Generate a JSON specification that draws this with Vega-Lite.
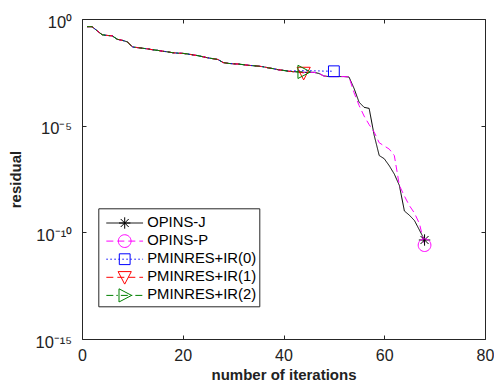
{
  "$schema": "https://vega.github.io/schema/vega-lite/v6.json",
  "width": 403,
  "height": 320,
  "autosize": "none",
  "padding": {"left": 82, "top": 19, "right": 9, "bottom": 48},
  "config": {
    "font": "Liberation Sans",
    "view": {"stroke": null},
    "axis": {"domainColor": "#262626", "tickColor": "#262626", "labelColor": "#262626", "titleColor": "#262626", "grid": false, "domainWidth": 1, "tickWidth": 1}
  },
  "data": {
    "values": [
      {"it": 1, "OPINS-J": 0.4365, "OPINS-P": 0.4365, "PMINRES+IR(0)": 0.4365, "PMINRES+IR(1)": 0.4365, "PMINRES+IR(2)": 0.4365},
      {"it": 2, "OPINS-J": 0.4365, "OPINS-P": 0.4365, "PMINRES+IR(0)": 0.4365, "PMINRES+IR(1)": 0.4365, "PMINRES+IR(2)": 0.4365},
      {"it": 3, "OPINS-J": 0.2818, "OPINS-P": 0.2818, "PMINRES+IR(0)": 0.2818, "PMINRES+IR(1)": 0.2818, "PMINRES+IR(2)": 0.2818},
      {"it": 4, "OPINS-J": 0.182, "OPINS-P": 0.182, "PMINRES+IR(0)": 0.182, "PMINRES+IR(1)": 0.182, "PMINRES+IR(2)": 0.182},
      {"it": 5, "OPINS-J": 0.1698, "OPINS-P": 0.1698, "PMINRES+IR(0)": 0.1698, "PMINRES+IR(1)": 0.1698, "PMINRES+IR(2)": 0.1698},
      {"it": 6, "OPINS-J": 0.1622, "OPINS-P": 0.1622, "PMINRES+IR(0)": 0.1622, "PMINRES+IR(1)": 0.1622, "PMINRES+IR(2)": 0.1622},
      {"it": 7, "OPINS-J": 0.1122, "OPINS-P": 0.1122, "PMINRES+IR(0)": 0.1122, "PMINRES+IR(1)": 0.1122, "PMINRES+IR(2)": 0.1122},
      {"it": 8, "OPINS-J": 0.1, "OPINS-P": 0.1, "PMINRES+IR(0)": 0.1, "PMINRES+IR(1)": 0.1, "PMINRES+IR(2)": 0.1},
      {"it": 9, "OPINS-J": 0.0851, "OPINS-P": 0.0851, "PMINRES+IR(0)": 0.0851, "PMINRES+IR(1)": 0.0851, "PMINRES+IR(2)": 0.0851},
      {"it": 10, "OPINS-J": 0.049, "OPINS-P": 0.049, "PMINRES+IR(0)": 0.049, "PMINRES+IR(1)": 0.049, "PMINRES+IR(2)": 0.049},
      {"it": 11, "OPINS-J": 0.0457, "OPINS-P": 0.0457, "PMINRES+IR(0)": 0.0457, "PMINRES+IR(1)": 0.0457, "PMINRES+IR(2)": 0.0457},
      {"it": 12, "OPINS-J": 0.0427, "OPINS-P": 0.0427, "PMINRES+IR(0)": 0.0427, "PMINRES+IR(1)": 0.0427, "PMINRES+IR(2)": 0.0427},
      {"it": 13, "OPINS-J": 0.0398, "OPINS-P": 0.0398, "PMINRES+IR(0)": 0.0398, "PMINRES+IR(1)": 0.0398, "PMINRES+IR(2)": 0.0398},
      {"it": 14, "OPINS-J": 0.0363, "OPINS-P": 0.0363, "PMINRES+IR(0)": 0.0363, "PMINRES+IR(1)": 0.0363, "PMINRES+IR(2)": 0.0363},
      {"it": 15, "OPINS-J": 0.0339, "OPINS-P": 0.0339, "PMINRES+IR(0)": 0.0339, "PMINRES+IR(1)": 0.0339, "PMINRES+IR(2)": 0.0339},
      {"it": 16, "OPINS-J": 0.0309, "OPINS-P": 0.0309, "PMINRES+IR(0)": 0.0309, "PMINRES+IR(1)": 0.0309, "PMINRES+IR(2)": 0.0309},
      {"it": 17, "OPINS-J": 0.0288, "OPINS-P": 0.0288, "PMINRES+IR(0)": 0.0288, "PMINRES+IR(1)": 0.0288, "PMINRES+IR(2)": 0.0288},
      {"it": 18, "OPINS-J": 0.0263, "OPINS-P": 0.0263, "PMINRES+IR(0)": 0.0263, "PMINRES+IR(1)": 0.0263, "PMINRES+IR(2)": 0.0263},
      {"it": 19, "OPINS-J": 0.0251, "OPINS-P": 0.0251, "PMINRES+IR(0)": 0.0251, "PMINRES+IR(1)": 0.0251, "PMINRES+IR(2)": 0.0251},
      {"it": 20, "OPINS-J": 0.0245, "OPINS-P": 0.0245, "PMINRES+IR(0)": 0.0245, "PMINRES+IR(1)": 0.0245, "PMINRES+IR(2)": 0.0245},
      {"it": 21, "OPINS-J": 0.0229, "OPINS-P": 0.0229, "PMINRES+IR(0)": 0.0229, "PMINRES+IR(1)": 0.0229, "PMINRES+IR(2)": 0.0229},
      {"it": 22, "OPINS-J": 0.0209, "OPINS-P": 0.0209, "PMINRES+IR(0)": 0.0209, "PMINRES+IR(1)": 0.0209, "PMINRES+IR(2)": 0.0209},
      {"it": 23, "OPINS-J": 0.0191, "OPINS-P": 0.0191, "PMINRES+IR(0)": 0.0191, "PMINRES+IR(1)": 0.0191, "PMINRES+IR(2)": 0.0191},
      {"it": 24, "OPINS-J": 0.017, "OPINS-P": 0.017, "PMINRES+IR(0)": 0.017, "PMINRES+IR(1)": 0.017, "PMINRES+IR(2)": 0.017},
      {"it": 25, "OPINS-J": 0.0151, "OPINS-P": 0.0151, "PMINRES+IR(0)": 0.0151, "PMINRES+IR(1)": 0.0151, "PMINRES+IR(2)": 0.0151},
      {"it": 26, "OPINS-J": 0.0138, "OPINS-P": 0.0138, "PMINRES+IR(0)": 0.0138, "PMINRES+IR(1)": 0.0138, "PMINRES+IR(2)": 0.0138},
      {"it": 27, "OPINS-J": 0.0126, "OPINS-P": 0.0126, "PMINRES+IR(0)": 0.0126, "PMINRES+IR(1)": 0.0126, "PMINRES+IR(2)": 0.0126},
      {"it": 28, "OPINS-J": 0.00912, "OPINS-P": 0.00912, "PMINRES+IR(0)": 0.00912, "PMINRES+IR(1)": 0.00912, "PMINRES+IR(2)": 0.00912},
      {"it": 29, "OPINS-J": 0.00832, "OPINS-P": 0.00832, "PMINRES+IR(0)": 0.00832, "PMINRES+IR(1)": 0.00832, "PMINRES+IR(2)": 0.00832},
      {"it": 30, "OPINS-J": 0.00794, "OPINS-P": 0.00794, "PMINRES+IR(0)": 0.00794, "PMINRES+IR(1)": 0.00794, "PMINRES+IR(2)": 0.00794},
      {"it": 31, "OPINS-J": 0.00776, "OPINS-P": 0.00776, "PMINRES+IR(0)": 0.00776, "PMINRES+IR(1)": 0.00776, "PMINRES+IR(2)": 0.00776},
      {"it": 32, "OPINS-J": 0.00724, "OPINS-P": 0.00724, "PMINRES+IR(0)": 0.00724, "PMINRES+IR(1)": 0.00724, "PMINRES+IR(2)": 0.00724},
      {"it": 33, "OPINS-J": 0.00676, "OPINS-P": 0.00676, "PMINRES+IR(0)": 0.00676, "PMINRES+IR(1)": 0.00676, "PMINRES+IR(2)": 0.00676},
      {"it": 34, "OPINS-J": 0.00646, "OPINS-P": 0.00646, "PMINRES+IR(0)": 0.00646, "PMINRES+IR(1)": 0.00646, "PMINRES+IR(2)": 0.00646},
      {"it": 35, "OPINS-J": 0.00617, "OPINS-P": 0.00617, "PMINRES+IR(0)": 0.00617, "PMINRES+IR(1)": 0.00617, "PMINRES+IR(2)": 0.00617},
      {"it": 36, "OPINS-J": 0.00575, "OPINS-P": 0.00575, "PMINRES+IR(0)": 0.00575, "PMINRES+IR(1)": 0.00575, "PMINRES+IR(2)": 0.00575},
      {"it": 37, "OPINS-J": 0.00513, "OPINS-P": 0.00513, "PMINRES+IR(0)": 0.00513, "PMINRES+IR(1)": 0.00513, "PMINRES+IR(2)": 0.00513},
      {"it": 38, "OPINS-J": 0.00468, "OPINS-P": 0.00468, "PMINRES+IR(0)": 0.00468, "PMINRES+IR(1)": 0.00468, "PMINRES+IR(2)": 0.00468},
      {"it": 39, "OPINS-J": 0.00417, "OPINS-P": 0.00417, "PMINRES+IR(0)": 0.00417, "PMINRES+IR(1)": 0.00417, "PMINRES+IR(2)": 0.00417},
      {"it": 40, "OPINS-J": 0.00389, "OPINS-P": 0.00389, "PMINRES+IR(0)": 0.00389, "PMINRES+IR(1)": 0.00389, "PMINRES+IR(2)": 0.00389},
      {"it": 41, "OPINS-J": 0.00355, "OPINS-P": 0.00355, "PMINRES+IR(0)": 0.00365, "PMINRES+IR(1)": 0.00355, "PMINRES+IR(2)": 0.00355},
      {"it": 42, "OPINS-J": 0.00339, "OPINS-P": 0.00339, "PMINRES+IR(0)": 0.0037, "PMINRES+IR(1)": 0.00339, "PMINRES+IR(2)": 0.00339},
      {"it": 43, "OPINS-J": 0.00331, "OPINS-P": 0.00331, "PMINRES+IR(0)": 0.0038, "PMINRES+IR(1)": 0.00331, "PMINRES+IR(2)": 0.00331},
      {"it": 44, "OPINS-J": 0.00316, "OPINS-P": 0.00316, "PMINRES+IR(0)": 0.0038, "PMINRES+IR(1)": 0.00295, "PMINRES+IR(2)": 0.00331},
      {"it": 45, "OPINS-J": 0.00316, "OPINS-P": 0.00316, "PMINRES+IR(0)": 0.0038},
      {"it": 46, "OPINS-J": 0.00316, "OPINS-P": 0.00316, "PMINRES+IR(0)": 0.0037},
      {"it": 47, "OPINS-J": 0.00282, "OPINS-P": 0.00282, "PMINRES+IR(0)": 0.0037},
      {"it": 48, "OPINS-J": 0.00214, "OPINS-P": 0.00214, "PMINRES+IR(0)": 0.0036},
      {"it": 49, "OPINS-J": 0.002, "OPINS-P": 0.002, "PMINRES+IR(0)": 0.0036},
      {"it": 50, "OPINS-J": 0.002, "OPINS-P": 0.002, "PMINRES+IR(0)": 0.00355},
      {"it": 51, "OPINS-J": 0.002, "OPINS-P": 0.002},
      {"it": 52, "OPINS-J": 0.002, "OPINS-P": 0.002},
      {"it": 53, "OPINS-J": 0.00191, "OPINS-P": 0.00191},
      {"it": 54, "OPINS-J": 5.62e-4, "OPINS-P": 3.55e-4},
      {"it": 55, "OPINS-J": 1.26e-4, "OPINS-P": 8.91e-5},
      {"it": 56, "OPINS-J": 7.24e-5, "OPINS-P": 2.82e-5},
      {"it": 57, "OPINS-J": 6.46e-5, "OPINS-P": 1.12e-5},
      {"it": 58, "OPINS-J": 3.55e-6, "OPINS-P": 5.01e-6},
      {"it": 59, "OPINS-J": 3.98e-7, "OPINS-P": 1.58e-6},
      {"it": 60, "OPINS-J": 2.82e-7, "OPINS-P": 1.12e-6},
      {"it": 61, "OPINS-J": 1.32e-7, "OPINS-P": 7.94e-7},
      {"it": 62, "OPINS-J": 5.37e-8, "OPINS-P": 3.98e-7},
      {"it": 63, "OPINS-J": 1.58e-8, "OPINS-P": 1.58e-8},
      {"it": 64, "OPINS-J": 1e-9, "OPINS-P": 5.01e-9},
      {"it": 65, "OPINS-J": 6.31e-10, "OPINS-P": 1.78e-9},
      {"it": 66, "OPINS-J": 3.55e-10, "OPINS-P": 7.94e-10},
      {"it": 67, "OPINS-J": 1.26e-10, "OPINS-P": 2.51e-10},
      {"it": 68, "OPINS-J": 4.37e-11, "OPINS-P": 2.51e-11}
    ]
  },
  "transform": [
    {"fold": ["OPINS-J", "OPINS-P", "PMINRES+IR(0)", "PMINRES+IR(1)", "PMINRES+IR(2)"], "as": ["method", "r"]},
    {"filter": "isValid(datum.r)"}
  ],
  "layer": [
    {
      "mark": {"type": "line", "strokeWidth": 1, "clip": true},
      "encoding": {
        "x": {
          "field": "it", "type": "quantitative",
          "scale": {"domain": [0, 80], "nice": false},
          "axis": {"orient": "bottom", "values": [0, 20, 40, 60, 80], "title": "number of iterations", "tickSize": -4, "labelPadding": 12, "labelFontSize": 16, "labelFlush": false, "labelColor": "#222", "titleFontSize": 15, "titleFontWeight": "bold", "titlePadding": 4, "titleColor": "#222"}
        },
        "y": {
          "field": "r", "type": "quantitative",
          "scale": {"type": "log", "domain": [1e-15, 1], "nice": false},
          "axis": {"orient": "left", "values": [1, 1e-5, 1e-10, 1e-15], "labelExpr": "datum.value > 0.5 ? '10⁰' : datum.value > 1e-7 ? '10⁻⁵' : datum.value > 1e-12 ? '10⁻¹⁰' : '10⁻¹⁵'", "tickSize": -4, "labelPadding": 14.3, "labelFontSize": 16.5, "labelOffset": 3, "labelFlush": false, "labelBound": false, "labelColor": "#222", "title": "residual", "titleFontSize": 15, "titleFontWeight": "bold", "titlePadding": 12, "titleColor": "#222"}
        },
        "color": {
          "field": "method", "type": "nominal",
          "scale": {"domain": ["OPINS-J", "OPINS-P", "PMINRES+IR(0)", "PMINRES+IR(1)", "PMINRES+IR(2)"], "range": ["#000000", "#ff00ff", "#0000ff", "#ff0000", "#008000"]},
          "legend": {"orient": "none", "legendX": 16.3, "legendY": 189.3, "title": " ", "titleFontSize": 1, "titlePadding": 3.4, "symbolType": "M-3.06,0H3.06", "symbolSize": 144, "symbolStrokeWidth": 1, "symbolOffset": 16, "labelOffset": 15.1, "labelFontSize": 14.8, "labelColor": "#000", "clipHeight": 14.6, "rowPadding": 2.1, "padding": 3, "strokeColor": "#262626"}
        },
        "strokeDash": {
          "field": "method", "type": "nominal",
          "scale": {"domain": ["OPINS-J", "OPINS-P", "PMINRES+IR(0)", "PMINRES+IR(1)", "PMINRES+IR(2)"], "range": [[1, 0], [7, 4], [1.5, 2.5], [7, 4], [7, 3, 1.5, 3]]},
          "legend": {"orient": "none", "legendX": 16.3, "legendY": 189.3, "title": " ", "titleFontSize": 1, "titlePadding": 3.4, "symbolType": "M-3.06,0H3.06", "symbolSize": 144, "symbolStrokeWidth": 1, "symbolOffset": 16, "labelOffset": 15.1, "labelFontSize": 14.8, "labelColor": "#000", "clipHeight": 14.6, "rowPadding": 2.1, "padding": 3, "strokeColor": "#262626"}
        }
      }
    },
    {
      "transform": [
        {"joinaggregate": [{"op": "max", "field": "it", "as": "last"}], "groupby": ["method"]},
        {"filter": "datum.it == datum.last"}
      ],
      "mark": {"type": "point", "filled": false, "size": 144, "strokeWidth": 1, "opacity": 1},
      "encoding": {
        "x": {"field": "it", "type": "quantitative", "axis": {"orient": "top", "values": [0, 20, 40, 60, 80], "labels": false, "title": null, "tickSize": -4}},
        "y": {"field": "r", "type": "quantitative", "axis": {"orient": "right", "values": [1, 1e-5, 1e-10, 1e-15], "labels": false, "title": null, "tickSize": -4}},
        "stroke": {
          "field": "method", "type": "nominal",
          "scale": {"range": ["#000000", "#ff00ff", "#0000ff", "#ff0000", "#008000"]},
          "legend": {"orient": "none", "legendX": 16.3, "legendY": 189.3, "title": " ", "titleFontSize": 1, "titlePadding": 3.4, "symbolSize": 144, "symbolStrokeWidth": 1, "symbolOffset": 16, "labelOffset": 15.1, "labelFontSize": 14.8, "labelOpacity": 0, "clipHeight": 14.6, "rowPadding": 2.1, "padding": 3}
        },
        "shape": {
          "field": "method", "type": "nominal",
          "scale": {"range": ["M-0.95,0H0.95M0,-0.95V0.95M-0.67,-0.67L0.67,0.67M-0.67,0.67L0.67,-0.67", "M1.06,0A1.06,1.06,0,1,1,-1.06,0A1.06,1.06,0,1,1,1.06,0Z", "M-0.9,-0.9H0.9V0.9H-0.9Z", "M-1.1,-0.95H1.1L0,1.15Z", "M-0.95,-1.1V1.1L1.15,0Z"]},
          "legend": {"orient": "none", "legendX": 16.3, "legendY": 189.3, "title": " ", "titleFontSize": 1, "titlePadding": 3.4, "symbolSize": 144, "symbolStrokeWidth": 1, "symbolOffset": 16, "labelOffset": 15.1, "labelFontSize": 14.8, "labelOpacity": 0, "clipHeight": 14.6, "rowPadding": 2.1, "padding": 3}
        }
      }
    }
  ],
  "resolve": {"axis": {"x": "independent", "y": "independent"}}
}
